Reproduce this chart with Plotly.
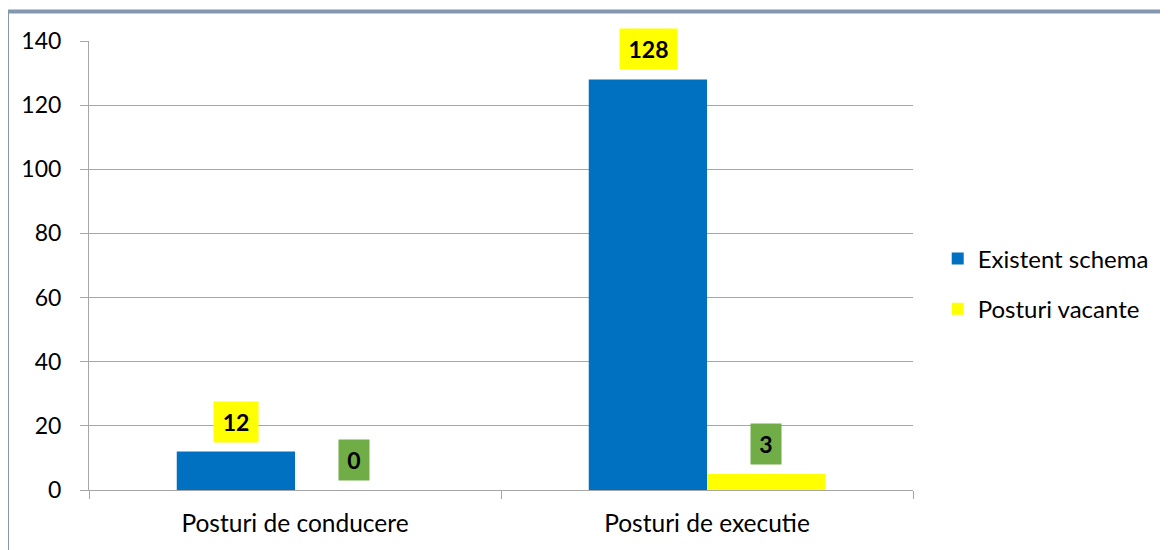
import plotly.graph_objects as go

categories = ["Posturi de conducere", "Posturi de executie"]
existent_schema = [12, 128]
posturi_vacante = [0, 5]
existent_labels = ["12", "128"]
vacante_labels = ["0", "3"]
y_ticks = [0, 20, 40, 60, 80, 100, 120, 140]

FONT = "Lato"
FS = 23
fig = go.Figure()
fig.add_trace(go.Bar(name="Existent schema", x=categories, y=existent_schema,
                     marker=dict(color="#0070C0", line=dict(width=0)), legendgroup="a"))
fig.add_trace(go.Bar(name="Posturi vacante", x=categories, y=posturi_vacante,
                     marker=dict(color="#FFFF00", line=dict(width=0)), legendgroup="b"))

def lbl(cat, val, text, shift, bg):
    w = {1: 18, 2: 32, 3: 45}[len(text)]
    fig.add_annotation(x=cat, y=val, text="<b>%s</b>" % text, showarrow=False,
                       xshift=shift, yanchor="bottom", yshift=9,
                       bgcolor=bg, borderpad=6, width=w, height=28,
                       font=dict(family=FONT, size=FS, color="black"))

for c, v, t in zip(categories, existent_schema, existent_labels):
    lbl(c, v, t, -59, "#FFFF00")
for c, v, t in zip(categories, posturi_vacante, vacante_labels):
    lbl(c, v, t, 59, "#70AD47")

fig.add_shape(type="rect", xref="paper", yref="paper",
              x0=-0.0995, x1=1.6, y0=-0.5, y1=1.0657,
              line=dict(color="#8497B0", width=4), layer="below")

fig.update_layout(
    width=1160, height=542,
    margin=dict(l=81, r=255, t=33, b=60),
    paper_bgcolor="white", plot_bgcolor="white",
    barmode="group", bargap=0.426, bargroupgap=0,
    font=dict(family=FONT, size=FS, color="black"),
    legend=dict(x=1.030, y=0.459, xanchor="left", yanchor="middle",
                traceorder="grouped", tracegroupgap=16,
                font=dict(family=FONT, size=24, color="black")),
    xaxis=dict(tickson="boundaries", ticks="outside", ticklen=8, tickcolor="#A6A6A6",
               showline=True, linecolor="#A6A6A6", showgrid=False,
               ticklabelstandoff=12, tickfont=dict(family=FONT, size=24.5)),
    yaxis=dict(range=[0, 140], tickvals=y_ticks, ticks="outside", ticklen=8,
               tickcolor="#A6A6A6", showline=True, linecolor="#A6A6A6",
               gridcolor="#A6A6A6", gridwidth=1, zeroline=False,
               ticklabelstandoff=14, tickfont=dict(family=FONT, size=FS)),
)
fig.write_html("out.html")
